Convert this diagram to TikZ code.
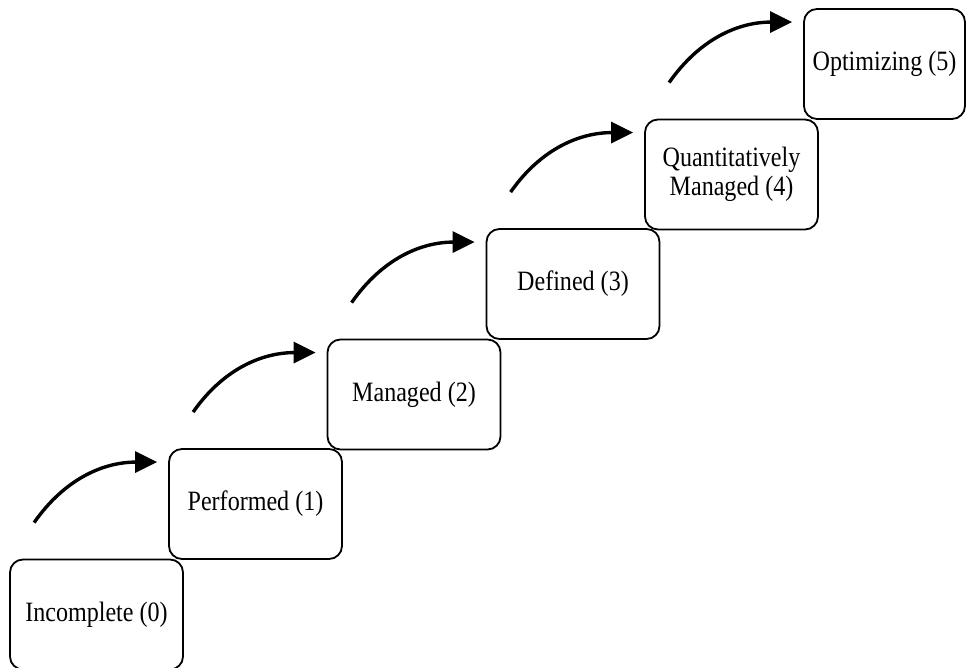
\documentclass[tikz,border=0pt]{standalone}
\usepackage{fontspec}
\newfontfamily\boxfont[FakeStretch=0.86]{Liberation Serif}
\usetikzlibrary{arrows.meta}
\begin{document}
\begin{tikzpicture}[x=1pt,y=1pt,
  level/.style={draw=black, line width=1.8pt, rounded corners=13pt,
    minimum width=173pt, minimum height=110pt, inner sep=0pt,
    align=center, font=\boxfont\fontsize{28}{29}\selectfont},
  climb/.style={line width=3.4pt, -{Triangle[length=22pt,width=21pt]}}]
\useasboundingbox (0,0) rectangle (967,668);
% maturity levels, bottom-left to top-right
\node[level] (b0) at (96.5,53.5)  {Incomplete (0)};
\node[level] (b1) at (255.5,164)  {Performed (1)};
\node[level] (b2) at (414,273.5)  {Managed (2)};
\node[level] (b3) at (573,384)    {Defined (3)};
\node[level] (b4) at (731.5,493.5) {Quantitatively\\Managed (4)};
\node[level, minimum width=161pt] (b5) at (884.5,604) {Optimizing (5)};
% start and end points of the step arrows
\foreach \i/\j in {0/1,1/2,2/3,3/4,4/5}{
  \coordinate (s\j) at ([shift={(25,36)}]b\i.north west);
  \coordinate (t\j) at ([shift={(-11,-14)}]b\j.north west);
  \draw[climb] (s\j) to[out=55,in=180] (t\j);
}
\end{tikzpicture}
\end{document}
